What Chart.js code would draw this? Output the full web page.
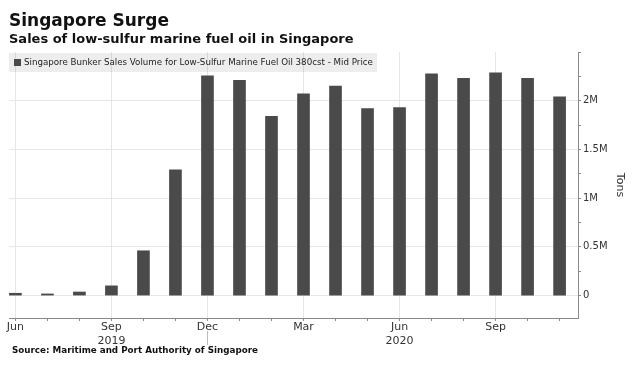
<!DOCTYPE html>
<html>
<head>
<meta charset="utf-8">
<script src="https://cdn.jsdelivr.net/npm/chart.js@4/dist/chart.umd.min.js"></script>
<style>
  html, body { margin: 0; padding: 0; background: #fff; }
</style>
</head>
<body>
<canvas id="surgeChart" width="634" height="366"></canvas>
<script>
// Monthly bunker sales, Jun 2019 - Nov 2020 (million tons)
const months = ['Jun', 'Jul', 'Aug', 'Sep', 'Oct', 'Nov', 'Dec', 'Jan', 'Feb', 'Mar', 'Apr', 'May',
                'Jun', 'Jul', 'Aug', 'Sep', 'Oct', 'Nov'];
const salesMt = [0.024, 0.017, 0.037, 0.10, 0.46, 1.29, 2.255, 2.21, 1.84, 2.07, 2.15, 1.92,
                 1.93, 2.275, 2.23, 2.285, 2.23, 2.04];
// quarter labels on the x axis, with the year under Sep 2019 and Jun 2020
const labelledMonths = [0, 3, 6, 9, 12, 15];
const yearLabels = { 3: '2019', 12: '2020' };
const yTickValues = [0, 0.25, 0.5, 0.75, 1, 1.25, 1.5, 1.75, 2, 2.25, 2.5];
const yLabelled = [0, 0.5, 1, 1.5, 2];

const barColor = '#4a4a4a';
const gridColor = '#e6e6e6';
const axisColor = '#8a8a8a';
const textColor = '#333';

// legend band, source line and year divider
const extras = {
    id: 'extras',
    beforeDatasetsDraw(chart) {
        const ctx = chart.ctx;
        ctx.save();
        ctx.fillStyle = 'rgba(0,0,0,0.07)';
        ctx.fillRect(9, 53, 368, 19);
        ctx.fillStyle = barColor;
        ctx.fillRect(14, 59, 7, 7);
        ctx.fillStyle = '#222';
        ctx.font = '8.7px "DejaVu Sans"';
        ctx.textBaseline = 'middle';
        ctx.fillText('Singapore Bunker Sales Volume for Low-Sulfur Marine Fuel Oil 380cst - Mid Price', 24, 62.5);
        ctx.restore();
    },
    afterDraw(chart) {
        const ctx = chart.ctx;
        const xScale = chart.scales.x;
        ctx.save();
        // divider between 2019 and 2020
        const xd = Math.round(xScale.getPixelForValue(6)) + 0.5;
        ctx.strokeStyle = '#bbb';
        ctx.lineWidth = 1;
        ctx.beginPath();
        ctx.moveTo(xd, 331);
        ctx.lineTo(xd, 345);
        ctx.stroke();
        ctx.fillStyle = '#111';
        ctx.font = 'bold 8.75px "DejaVu Sans"';
        ctx.textBaseline = 'middle';
        ctx.fillText('Source: Maritime and Port Authority of Singapore', 12, 351);
        ctx.restore();
    }
};

const ctx = document.getElementById('surgeChart').getContext('2d');
const surgeChart = new Chart(ctx, {
    type: 'bar',
    data: {
        datasets: [{
            label: 'Singapore Bunker Sales Volume for Low-Sulfur Marine Fuel Oil 380cst - Mid Price',
            data: salesMt.map((v, i) => ({ x: i, y: v })),
            backgroundColor: barColor,
            barThickness: 12
        }]
    },
    options: {
        responsive: false,
        animation: false,
        devicePixelRatio: 1,
        layout: { padding: { left: 9, right: 0, top: 0, bottom: 0 } },
        plugins: {
            legend: { display: false },
            tooltip: { enabled: false },
            title: {
                display: true,
                text: 'Singapore Surge',
                align: 'start',
                color: '#111',
                font: { family: 'DejaVu Sans', size: 17, weight: 'bold', lineHeight: 1.2 },
                padding: { top: 11, bottom: 0 }
            },
            subtitle: {
                display: true,
                text: 'Sales of low-sulfur marine fuel oil in Singapore',
                align: 'start',
                color: '#111',
                font: { family: 'DejaVu Sans', size: 13, weight: 'bold', lineHeight: 1.2 },
                padding: { top: 0, bottom: 5 }
            }
        },
        scales: {
            x: {
                type: 'linear',
                offset: false,
                min: -0.2,
                max: 17.575,
                afterBuildTicks: s => { s.ticks = months.map((m, i) => ({ value: i })); },
                afterFit: s => { s.height = 48; },
                ticks: {
                    autoSkip: false,
                    maxRotation: 0,
                    padding: 0,
                    color: textColor,
                    font: { family: 'DejaVu Sans', size: 11, lineHeight: 1.2 },
                    callback: v => {
                        if (!labelledMonths.includes(v)) return '';
                        return yearLabels[v] ? [months[v], yearLabels[v]] : months[v];
                    }
                },
                grid: {
                    offset: false,
                    color: c => (c.tick && labelledMonths.includes(c.tick.value)) ? gridColor : 'rgba(0,0,0,0)',
                    tickColor: axisColor,
                    tickLength: 3
                },
                border: { color: axisColor }
            },
            y: {
                position: 'right',
                min: -0.23,
                max: 2.5,
                afterBuildTicks: s => { s.ticks = yTickValues.map(v => ({ value: v })); },
                afterFit: s => { s.width = 56; },
                ticks: {
                    padding: 2,
                    color: textColor,
                    font: { family: 'DejaVu Sans', size: 10 },
                    callback: v => yLabelled.includes(v) ? (v === 0 ? '0' : v + 'M') : ''
                },
                grid: {
                    color: c => (c.tick && yLabelled.includes(c.tick.value)) ? gridColor : 'rgba(0,0,0,0)',
                    tickColor: axisColor,
                    tickLength: 3
                },
                border: { color: axisColor },
                title: {
                    display: true,
                    text: 'Tons',
                    color: textColor,
                    font: { family: 'DejaVu Sans', size: 11, lineHeight: 1.2 },
                    padding: { top: 8, bottom: 0 }
                }
            }
        }
    },
    plugins: [extras]
});
</script>
</body>
</html>
